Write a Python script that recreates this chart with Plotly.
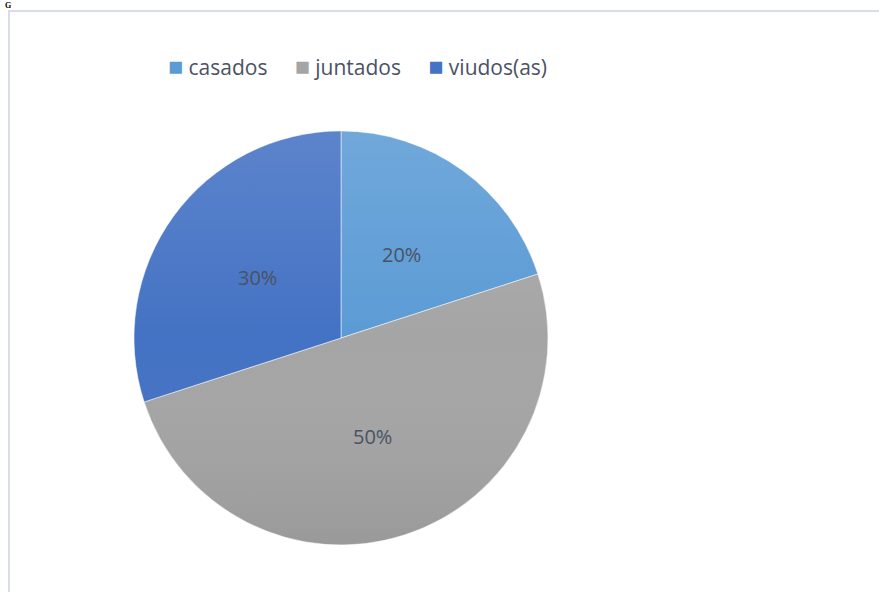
import math
import base64
import plotly.graph_objects as go

labels = ["casados", "juntados", "viudos(as)"]
values = [20, 50, 30]
colors = ["#5B9BD5", "#A5A5A5", "#4472C4"]

W, H = 879, 592
cx, cy, R = 341, 338, 207  # pie centre / radius in px

fig = go.Figure()
fig.add_trace(go.Pie(
    labels=labels, values=values, sort=False, direction="clockwise", rotation=0,
    marker=dict(colors=colors, line=dict(color="rgba(255,255,255,0.5)", width=1)),
    textinfo="none", hoverinfo="label+percent", showlegend=False,
    domain=dict(x=[(cx - R) / W, (cx + R) / W], y=[1 - (cy + R) / H, 1 - (cy - R) / H]),
))

# soft vertical gradient overlay (top lighter, bottom darker)
svg = ('<svg xmlns="http://www.w3.org/2000/svg" width="414" height="414">'
       '<defs><linearGradient id="g" x1="0" y1="0" x2="0" y2="1">'
       '<stop offset="0" stop-color="#ffffff" stop-opacity="0.13"/>'
       '<stop offset="0.5" stop-color="#ffffff" stop-opacity="0"/>'
       '<stop offset="1" stop-color="#000000" stop-opacity="0.07"/>'
       '</linearGradient></defs><circle cx="207" cy="207" r="206.5" fill="url(#g)"/></svg>')
fig.add_layout_image(
    source="data:image/svg+xml;base64," + base64.b64encode(svg.encode()).decode(),
    xref="paper", yref="paper", x=(cx - R) / W, y=1 - (cy - R) / H,
    sizex=2 * R / W, sizey=2 * R / H, xanchor="left", yanchor="top",
    sizing="stretch", layer="above")

# data labels at half radius, mid-angle of each slice
total = sum(values)
cum = 0
for v in values:
    mid = (cum + v / 2) / total * 2 * math.pi
    cum += v
    px = cx + 0.5 * R * math.sin(mid)
    py = cy - 0.5 * R * math.cos(mid)
    fig.add_annotation(x=px / W, y=1 - py / H, xref="paper", yref="paper",
                       xanchor="center", yanchor="middle",
                       text=f"{round(v / total * 100)}%", showarrow=False,
                       font=dict(family="Open Sans", size=20, color="#4a5263"))

# legend (top), built from labels/colors
sep = "&nbsp;" * 5
legend_text = sep.join(
    f'<span style="color:{c};font-size:25px">■</span>&nbsp;{l}' for l, c in zip(labels, colors))
fig.add_annotation(x=166 / W, y=1 - 65 / H, xref="paper", yref="paper",
                   xanchor="left", yanchor="middle", showarrow=False,
                   text=legend_text,
                   font=dict(family="Open Sans", size=21, color="#4a5263"))

# chart area border
fig.add_shape(type="rect", xref="paper", yref="paper",
              x0=9 / W, y0=-0.05, x1=1.05, y1=1 - 11 / H,
              line=dict(color="#d9dde6", width=2), fillcolor="rgba(0,0,0,0)")

# small letter at top-left
fig.add_annotation(x=4 / W, y=1, xref="paper", yref="paper", xanchor="left", yanchor="top",
                   text="<b>G</b>", showarrow=False, borderpad=0,
                   font=dict(family="Liberation Serif", size=8, color="#000000"))

fig.update_layout(
    width=W, height=H, margin=dict(l=0, r=0, t=0, b=0),
    paper_bgcolor="white", plot_bgcolor="white",
)

fig.write_html("out.html")
